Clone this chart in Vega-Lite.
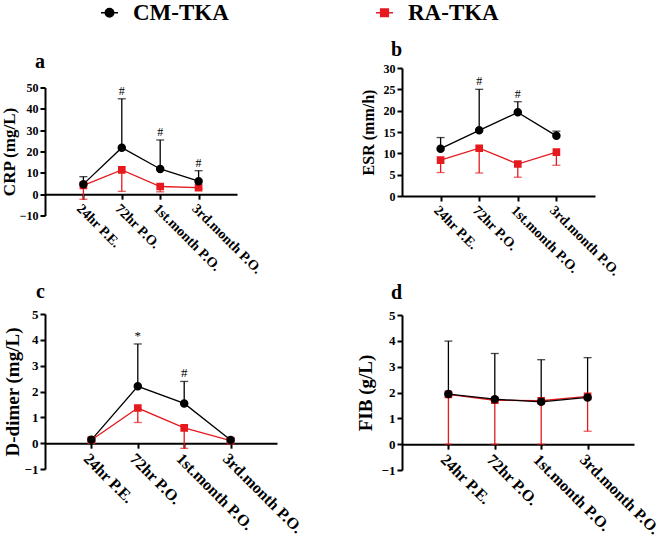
{
  "$schema": "https://vega.github.io/schema/vega-lite/v6.json",
  "padding": {"left": 0, "top": 0, "right": 0, "bottom": 0},
  "background": "white",
  "data": {"values": [
    {"panel": "a", "time": "24hr P.E.", "idx": 1, "group": "RA-TKA", "mean": 4.1, "err": -2.4, "sig": null},
    {"panel": "a", "time": "72hr P.O.", "idx": 2, "group": "RA-TKA", "mean": 11.4, "err": 1.3, "sig": null},
    {"panel": "a", "time": "1st.month P.O.", "idx": 3, "group": "RA-TKA", "mean": 3.6, "err": 1.1, "sig": null},
    {"panel": "a", "time": "3rd.month P.O.", "idx": 4, "group": "RA-TKA", "mean": 3.1, "err": 2.6, "sig": null},
    {"panel": "a", "time": "24hr P.E.", "idx": 1, "group": "CM-TKA", "mean": 4.7, "err": 8.2, "sig": null},
    {"panel": "a", "time": "72hr P.O.", "idx": 2, "group": "CM-TKA", "mean": 21.8, "err": 44.7, "sig": "#"},
    {"panel": "a", "time": "1st.month P.O.", "idx": 3, "group": "CM-TKA", "mean": 11.8, "err": 25.4, "sig": "#"},
    {"panel": "a", "time": "3rd.month P.O.", "idx": 4, "group": "CM-TKA", "mean": 6.1, "err": 11.0, "sig": "#"},
    {"panel": "b", "time": "24hr P.E.", "idx": 1, "group": "RA-TKA", "mean": 8.4, "err": 5.5, "sig": null},
    {"panel": "b", "time": "72hr P.O.", "idx": 2, "group": "RA-TKA", "mean": 11.2, "err": 5.4, "sig": null},
    {"panel": "b", "time": "1st.month P.O.", "idx": 3, "group": "RA-TKA", "mean": 7.5, "err": 4.4, "sig": null},
    {"panel": "b", "time": "3rd.month P.O.", "idx": 4, "group": "RA-TKA", "mean": 10.3, "err": 7.2, "sig": null},
    {"panel": "b", "time": "24hr P.E.", "idx": 1, "group": "CM-TKA", "mean": 11.1, "err": 13.7, "sig": null},
    {"panel": "b", "time": "72hr P.O.", "idx": 2, "group": "CM-TKA", "mean": 15.4, "err": 25.0, "sig": "#"},
    {"panel": "b", "time": "1st.month P.O.", "idx": 3, "group": "CM-TKA", "mean": 19.6, "err": 22.1, "sig": "#"},
    {"panel": "b", "time": "3rd.month P.O.", "idx": 4, "group": "CM-TKA", "mean": 14.1, "err": 15.2, "sig": null},
    {"panel": "c", "time": "24hr P.E.", "idx": 1, "group": "RA-TKA", "mean": 0.12, "err": 0.06, "sig": null},
    {"panel": "c", "time": "72hr P.O.", "idx": 2, "group": "RA-TKA", "mean": 1.36, "err": 0.8, "sig": null},
    {"panel": "c", "time": "1st.month P.O.", "idx": 3, "group": "RA-TKA", "mean": 0.59, "err": -0.2, "sig": null},
    {"panel": "c", "time": "3rd.month P.O.", "idx": 4, "group": "RA-TKA", "mean": 0.1, "err": 0.05, "sig": null},
    {"panel": "c", "time": "24hr P.E.", "idx": 1, "group": "CM-TKA", "mean": 0.13, "err": 0.2, "sig": null},
    {"panel": "c", "time": "72hr P.O.", "idx": 2, "group": "CM-TKA", "mean": 2.2, "err": 3.84, "sig": "*"},
    {"panel": "c", "time": "1st.month P.O.", "idx": 3, "group": "CM-TKA", "mean": 1.54, "err": 2.39, "sig": "#"},
    {"panel": "c", "time": "3rd.month P.O.", "idx": 4, "group": "CM-TKA", "mean": 0.12, "err": 0.18, "sig": null},
    {"panel": "d", "time": "24hr P.E.", "idx": 1, "group": "RA-TKA", "mean": 1.93, "err": 0.0, "sig": null},
    {"panel": "d", "time": "72hr P.O.", "idx": 2, "group": "RA-TKA", "mean": 1.7, "err": 0.0, "sig": null},
    {"panel": "d", "time": "1st.month P.O.", "idx": 3, "group": "RA-TKA", "mean": 1.68, "err": 0.0, "sig": null},
    {"panel": "d", "time": "3rd.month P.O.", "idx": 4, "group": "RA-TKA", "mean": 1.85, "err": 0.5, "sig": null},
    {"panel": "d", "time": "24hr P.E.", "idx": 1, "group": "CM-TKA", "mean": 1.94, "err": 3.99, "sig": null},
    {"panel": "d", "time": "72hr P.O.", "idx": 2, "group": "CM-TKA", "mean": 1.74, "err": 3.51, "sig": null},
    {"panel": "d", "time": "1st.month P.O.", "idx": 3, "group": "CM-TKA", "mean": 1.64, "err": 3.27, "sig": null},
    {"panel": "d", "time": "3rd.month P.O.", "idx": 4, "group": "CM-TKA", "mean": 1.81, "err": 3.35, "sig": null}
  ]},
  "spacing": 51,
  "resolve": {"scale": {"color": "shared", "shape": "shared"}},
  "hconcat": [
    {
      "spacing": 5.5,
      "vconcat": [
        {"width": 1, "height": 45.5, "data": {"values": []}, "mark": {"type": "point", "opacity": 0}, "encoding": {}},
        {
          "width": 192, "height": 128,
          "title": {"text": "a", "fontSize": 20, "font": "Liberation Serif", "fontWeight": "bold", "anchor": "start", "align": "right", "baseline": "bottom", "offset": -10, "frame": "group", "color": "black"},
          "transform": [{"filter": "datum.panel === 'a'"}],
          "encoding": {
            "x": {"field": "time", "type": "ordinal", "scale": {"type": "point", "padding": 1, "domain": ["24hr P.E.", "72hr P.O.", "1st.month P.O.", "3rd.month P.O."]}, "axis": {"title": null, "labelAngle": 45, "labelAlign": "left", "labelBaseline": "top", "labelFontSize": 14, "offset": -21.33, "labelOverlap": false}},
            "y": {"field": "mean", "type": "quantitative", "title": "CRP (mg/L)", "scale": {"domain": [-10, 50], "nice": false, "zero": false}, "axis": {"values": [-10, 0, 10, 20, 30, 40, 50], "labelFontSize": 12, "titleFontSize": 17, "titlePadding": 1}},
            "color": {"field": "group", "type": "nominal", "scale": {"domain": ["CM-TKA", "RA-TKA"], "range": ["#000000", "#e5191e"]}, "legend": {
              "orient": "none", "legendX": 53, "legendY": 1, "direction": "horizontal", "title": null,
              "labelFont": "Liberation Serif", "labelFontWeight": "bold", "labelFontSize": 23, "labelColor": "black",
              "labelOffset": 12, "columnPadding": 144, "symbolSize": 289, "symbolStrokeWidth": 1.5, "padding": 0,
              "encode": {"symbols": {"update": {
                "fill": {"signal": "datum.value === 'CM-TKA' ? '#000000' : '#e5191e'"},
                "stroke": {"signal": "datum.value === 'CM-TKA' ? '#000000' : '#e5191e'"},
                "opacity": {"value": 1}
              }}}
            }}
          },
          "layer": [
            {"mark": {"type": "rule", "strokeWidth": 1.3}, "encoding": {"y2": {"field": "err"}}},
            {"mark": {"type": "tick", "size": 8, "thickness": 1.3, "orient": "horizontal"}, "encoding": {"y": {"field": "err", "type": "quantitative", "title": "CRP (mg/L)"}}},
            {"mark": {"type": "line", "strokeWidth": 1.3}, "encoding": {"order": {"field": "idx"}}},
            {"mark": {"type": "point", "filled": true, "size": 289, "opacity": 1},
             "encoding": {"shape": {"field": "group", "type": "nominal", "scale": {"domain": ["CM-TKA", "RA-TKA"], "range": ["M-1,0L1,0M0.5,0A0.5,0.5,0,1,1,-0.5,0A0.5,0.5,0,1,1,0.5,0Z", "M-1,0L1,0M-0.45,-0.45L0.45,-0.45L0.45,0.45L-0.45,0.45Z"]}}}},
            {"transform": [{"filter": "datum.sig"}], "mark": {"type": "text", "font": "Liberation Serif", "fontSize": 12, "baseline": "bottom", "dy": -1},
             "encoding": {"y": {"field": "err", "type": "quantitative", "title": "CRP (mg/L)"}, "text": {"field": "sig"}, "color": {"value": "black"}}}
          ]
        },
        {
          "width": 232, "height": 155,
          "title": {"text": "c", "fontSize": 20, "font": "Liberation Serif", "fontWeight": "bold", "anchor": "start", "align": "right", "baseline": "bottom", "offset": -14, "frame": "group", "color": "black"},
          "transform": [{"filter": "datum.panel === 'c'"}],
          "encoding": {
            "x": {"field": "time", "type": "ordinal", "scale": {"type": "point", "padding": 1, "domain": ["24hr P.E.", "72hr P.O.", "1st.month P.O.", "3rd.month P.O."]}, "axis": {"title": null, "labelAngle": 45, "labelAlign": "left", "labelBaseline": "top", "labelFontSize": 16, "offset": -25.83, "labelOverlap": false}},
            "y": {"field": "mean", "type": "quantitative", "title": "D-dimer (mg/L)", "scale": {"domain": [-1, 5], "nice": false, "zero": false}, "axis": {"values": [-1, 0, 1, 2, 3, 4, 5], "labelFontSize": 13, "titleFontSize": 19, "titlePadding": 2}},
            "color": {"field": "group", "type": "nominal"}
          },
          "layer": [
            {"mark": {"type": "rule", "strokeWidth": 1.3}, "encoding": {"y2": {"field": "err"}}},
            {"mark": {"type": "tick", "size": 8, "thickness": 1.3, "orient": "horizontal"}, "encoding": {"y": {"field": "err", "type": "quantitative", "title": "D-dimer (mg/L)"}}},
            {"mark": {"type": "line", "strokeWidth": 1.3}, "encoding": {"order": {"field": "idx"}}},
            {"mark": {"type": "point", "filled": true, "size": 289, "opacity": 1}, "encoding": {"shape": {"field": "group", "type": "nominal"}}},
            {"transform": [{"filter": "datum.sig"}], "mark": {"type": "text", "font": "Liberation Serif", "fontSize": 13, "baseline": "bottom", "dy": -1},
             "encoding": {"y": {"field": "err", "type": "quantitative", "title": "D-dimer (mg/L)"}, "text": {"field": "sig"}, "color": {"value": "black"}}}
          ]
        }
      ]
    },
    {
      "spacing": 5,
      "vconcat": [
        {"width": 1, "height": 35, "data": {"values": []}, "mark": {"type": "point", "opacity": 0}, "encoding": {}},
        {
          "width": 193, "height": 128,
          "title": {"text": "b", "fontSize": 20, "font": "Liberation Serif", "fontWeight": "bold", "anchor": "start", "align": "right", "baseline": "bottom", "offset": -18, "frame": "group", "color": "black"},
          "transform": [{"filter": "datum.panel === 'b'"}],
          "encoding": {
            "x": {"field": "time", "type": "ordinal", "scale": {"type": "point", "padding": 1, "domain": ["24hr P.E.", "72hr P.O.", "1st.month P.O.", "3rd.month P.O."]}, "axis": {"title": null, "labelAngle": 45, "labelAlign": "left", "labelBaseline": "top", "labelFontSize": 14, "labelOverlap": false}},
            "y": {"field": "mean", "type": "quantitative", "title": "ESR (mm/h)", "scale": {"domain": [0, 30], "nice": false}, "axis": {"values": [0, 5, 10, 15, 20, 25, 30], "labelFontSize": 12, "titleFontSize": 16, "titlePadding": 7}},
            "color": {"field": "group", "type": "nominal"}
          },
          "layer": [
            {"mark": {"type": "rule", "strokeWidth": 1.3}, "encoding": {"y2": {"field": "err"}}},
            {"mark": {"type": "tick", "size": 8, "thickness": 1.3, "orient": "horizontal"}, "encoding": {"y": {"field": "err", "type": "quantitative", "title": "ESR (mm/h)"}}},
            {"mark": {"type": "line", "strokeWidth": 1.3}, "encoding": {"order": {"field": "idx"}}},
            {"mark": {"type": "point", "filled": true, "size": 289, "opacity": 1}, "encoding": {"shape": {"field": "group", "type": "nominal"}}},
            {"transform": [{"filter": "datum.sig"}], "mark": {"type": "text", "font": "Liberation Serif", "fontSize": 12, "baseline": "bottom", "dy": -1},
             "encoding": {"y": {"field": "err", "type": "quantitative", "title": "ESR (mm/h)"}, "text": {"field": "sig"}, "color": {"value": "black"}}}
          ]
        },
        {
          "width": 232, "height": 155,
          "title": {"text": "d", "fontSize": 20, "font": "Liberation Serif", "fontWeight": "bold", "anchor": "start", "align": "right", "baseline": "bottom", "offset": -14, "frame": "group", "color": "black"},
          "transform": [{"filter": "datum.panel === 'd'"}],
          "encoding": {
            "x": {"field": "time", "type": "ordinal", "scale": {"type": "point", "padding": 1, "domain": ["24hr P.E.", "72hr P.O.", "1st.month P.O.", "3rd.month P.O."]}, "axis": {"title": null, "labelAngle": 45, "labelAlign": "left", "labelBaseline": "top", "labelFontSize": 16, "offset": -25.83, "labelOverlap": false}},
            "y": {"field": "mean", "type": "quantitative", "title": "FIB (g/L)", "scale": {"domain": [-1, 5], "nice": false, "zero": false}, "axis": {"values": [-1, 0, 1, 2, 3, 4, 5], "labelFontSize": 13, "titleFontSize": 19, "titlePadding": 6}},
            "color": {"field": "group", "type": "nominal"}
          },
          "layer": [
            {"mark": {"type": "rule", "strokeWidth": 1.3}, "encoding": {"y2": {"field": "err"}}},
            {"mark": {"type": "tick", "size": 8, "thickness": 1.3, "orient": "horizontal"}, "encoding": {"y": {"field": "err", "type": "quantitative", "title": "FIB (g/L)"}}},
            {"mark": {"type": "line", "strokeWidth": 1.3}, "encoding": {"order": {"field": "idx"}}},
            {"mark": {"type": "point", "filled": true, "size": 289, "opacity": 1}, "encoding": {"shape": {"field": "group", "type": "nominal"}}}
          ]
        }
      ]
    }
  ],
  "config": {
    "view": {"stroke": null},
    "axis": {"domainColor": "black", "domainWidth": 2, "tickColor": "black", "tickWidth": 2, "tickSize": 5, "labelColor": "black", "labelFont": "Liberation Serif", "labelFontWeight": "bold", "titleFont": "Liberation Serif", "titleFontWeight": "bold", "titleColor": "black", "grid": false, "labelPadding": 2}
  }
}
